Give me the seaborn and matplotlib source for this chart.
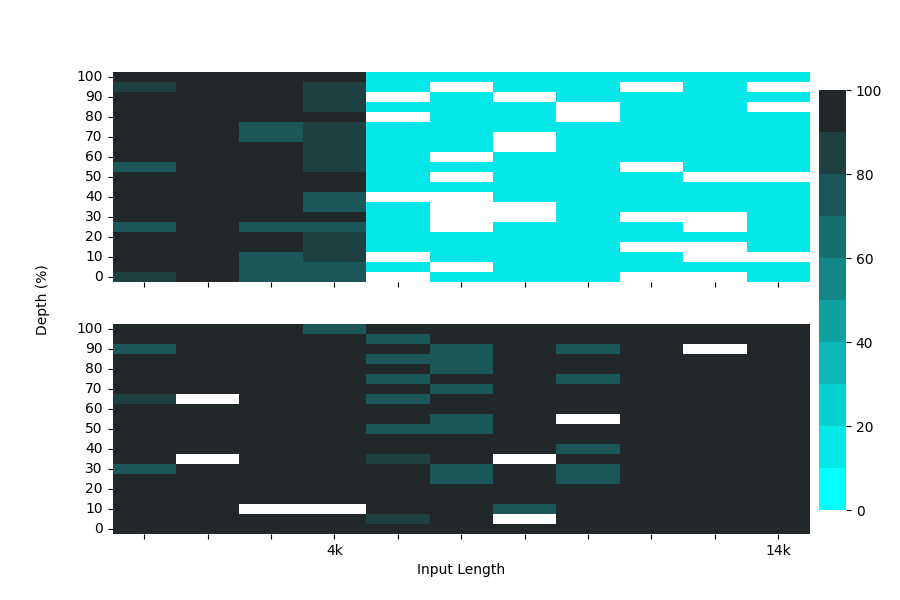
import numpy as np
import pandas as pd
import matplotlib
matplotlib.use("Agg")
import matplotlib.pyplot as plt
import seaborn as sns

nan = np.nan

depths = [100, 95, 90, 85, 80, 75, 70, 65, 60, 55, 50, 45, 40, 35, 30, 25, 20, 15, 10, 5, 0]
input_lengths = ["1", "2", "3", "4k", "5", "6", "7", "8", "9", "10", "14k"]
xtick_labels = ["", "", "", "4k", "", "", "", "", "", "", "14k"]

# upper panel, rows = depth (100 -> 0), cols = input length
scores_top = [
    [100, 100, 100, 100, 15, 15, 15, 15, 15, 15, 15],
    [85, 100, 100, 85, 15, nan, 15, 15, nan, 15, nan],
    [100, 100, 100, 85, nan, 15, nan, 15, 15, 15, 15],
    [100, 100, 100, 85, 15, 15, 15, nan, 15, 15, nan],
    [100, 100, 100, 100, nan, 15, 15, nan, 15, 15, 15],
    [100, 100, 75, 85, 15, 15, 15, 15, 15, 15, 15],
    [100, 100, 75, 85, 15, 15, nan, 15, 15, 15, 15],
    [100, 100, 100, 85, 15, 15, nan, 15, 15, 15, 15],
    [100, 100, 100, 85, 15, nan, 15, 15, 15, 15, 15],
    [75, 100, 100, 85, 15, 15, 15, 15, nan, 15, 15],
    [100, 100, 100, 100, 15, nan, 15, 15, 15, nan, nan],
    [100, 100, 100, 100, 15, 15, 15, 15, 15, 15, 15],
    [100, 100, 100, 75, nan, nan, 15, 15, 15, 15, 15],
    [100, 100, 100, 75, 15, nan, nan, 15, 15, 15, 15],
    [100, 100, 100, 100, 15, nan, nan, 15, nan, nan, 15],
    [75, 100, 75, 75, 15, nan, 15, 15, 15, nan, 15],
    [100, 100, 100, 85, 15, 15, 15, 15, 15, 15, 15],
    [100, 100, 100, 85, 15, 15, 15, 15, nan, nan, 15],
    [100, 100, 75, 85, nan, 15, 15, 15, 15, nan, nan],
    [100, 100, 75, 75, 15, nan, 15, 15, 15, 15, 15],
    [85, 100, 75, 75, nan, 15, 15, 15, nan, nan, 15],
]

# lower panel
scores_bottom = [
    [100, 100, 100, 75, 100, 100, 100, 100, 100, 100, 100],
    [100, 100, 100, 100, 75, 100, 100, 100, 100, 100, 100],
    [75, 100, 100, 100, 100, 75, 100, 75, 100, nan, 100],
    [100, 100, 100, 100, 75, 75, 100, 100, 100, 100, 100],
    [100, 100, 100, 100, 100, 75, 100, 100, 100, 100, 100],
    [100, 100, 100, 100, 75, 100, 100, 75, 100, 100, 100],
    [100, 100, 100, 100, 100, 75, 100, 100, 100, 100, 100],
    [85, nan, 100, 100, 75, 100, 100, 100, 100, 100, 100],
    [100, 100, 100, 100, 100, 100, 100, 100, 100, 100, 100],
    [100, 100, 100, 100, 100, 75, 100, nan, 100, 100, 100],
    [100, 100, 100, 100, 75, 75, 100, 100, 100, 100, 100],
    [100, 100, 100, 100, 100, 100, 100, 100, 100, 100, 100],
    [100, 100, 100, 100, 100, 100, 100, 75, 100, 100, 100],
    [100, nan, 100, 100, 85, 100, nan, 100, 100, 100, 100],
    [75, 100, 100, 100, 100, 75, 100, 75, 100, 100, 100],
    [100, 100, 100, 100, 100, 75, 100, 75, 100, 100, 100],
    [100, 100, 100, 100, 100, 100, 100, 100, 100, 100, 100],
    [100, 100, 100, 100, 100, 100, 100, 100, 100, 100, 100],
    [100, 100, nan, nan, 100, 100, 75, 100, 100, 100, 100],
    [100, 100, 100, 100, 85, 100, nan, 100, 100, 100, 100],
    [100, 100, 100, 100, 100, 100, 100, 100, 100, 100, 100],
]

df_top = pd.DataFrame(scores_top, index=depths, columns=input_lengths)
df_bottom = pd.DataFrame(scores_bottom, index=depths, columns=input_lengths)

cmap = sns.blend_palette(["#00FFFF", "#222829"], 10)

fig, axes = plt.subplots(2, 1, figsize=(9, 6), dpi=100)
cbar_ax = fig.add_axes([0.91, 0.15, 0.03, 0.7])

sns.heatmap(df_top, ax=axes[0], cmap=cmap, vmin=0, vmax=100, cbar=False,
            yticklabels=2)
sns.heatmap(df_bottom, ax=axes[1], cmap=cmap, vmin=0, vmax=100,
            cbar_ax=cbar_ax, yticklabels=2)

for ax in axes:
    ax.set_ylabel("")
    ax.set_xlabel("")
    ax.tick_params(axis="y", rotation=0)

axes[0].set_xticklabels([""] * len(input_lengths))
axes[1].set_xticklabels(xtick_labels, rotation=0)
axes[1].set_xlabel("Input Length")

fig.text(0.04, 0.5, "Depth (%)", va="center", rotation="vertical")

plt.savefig("out.png")
